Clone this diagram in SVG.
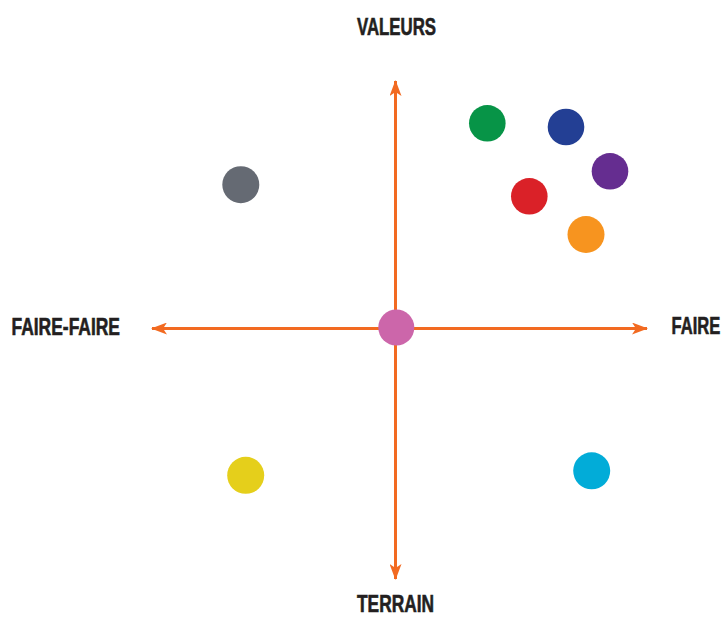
<svg xmlns="http://www.w3.org/2000/svg" width="725" height="617" viewBox="0 0 725 617">
<style>
.lbl{font-family:"Liberation Sans",Arial,sans-serif;font-weight:bold;font-size:23px;fill:#231f20;stroke:#231f20;stroke-width:0.6}
.axis{stroke:#f26a21;stroke-width:3;fill:none}
</style>
<defs>
<marker id="ah" viewBox="0 0 16 12" refX="15" refY="6" markerWidth="16" markerHeight="12" markerUnits="userSpaceOnUse" orient="auto">
<path d="M0,0 L16,6 L0,12 L4,6 Z" fill="#f26a21"/>
</marker>
</defs>
<rect width="725" height="617" fill="#ffffff"/>
<g id="connectors">
<line class="axis" x1="395.5" y1="328.5" x2="395.5" y2="81" marker-end="url(#ah)"/>
<line class="axis" x1="395.5" y1="328.5" x2="395.5" y2="579" marker-end="url(#ah)"/>
<line class="axis" x1="395.5" y1="328.5" x2="152" y2="328.5" marker-end="url(#ah)"/>
<line class="axis" x1="395.5" y1="328.5" x2="647" y2="328.5" marker-end="url(#ah)"/>
</g>
<g id="labels">
<text id="valeurs" class="lbl" x="357" y="35" textLength="79" lengthAdjust="spacingAndGlyphs">VALEURS</text>
<text id="faire-faire" class="lbl" x="11.5" y="334.5" textLength="108.5" lengthAdjust="spacingAndGlyphs">FAIRE-FAIRE</text>
<text id="faire" class="lbl" transform="translate(671.5,333.5) scale(0.72,1)" x="0" y="0">FAIRE</text>
<text id="terrain" class="lbl" x="357" y="612" textLength="77" lengthAdjust="spacingAndGlyphs">TERRAIN</text>
</g>
<g id="node-pink"><circle cx="396.3" cy="327.5" r="18" fill="#cc66aa"/></g>
<g id="node-green"><circle cx="487.3" cy="123.3" r="18.3" fill="#079447"/></g>
<g id="node-blue"><circle cx="566" cy="127" r="18.3" fill="#233f94"/></g>
<g id="node-purple"><circle cx="610" cy="171.3" r="18.3" fill="#652d90"/></g>
<g id="node-red"><circle cx="529.3" cy="196.3" r="18.3" fill="#da2128"/></g>
<g id="node-orange"><circle cx="586" cy="234.5" r="18.5" fill="#f7941f"/></g>
<g id="node-gray"><circle cx="240.8" cy="184.7" r="18.5" fill="#656a73"/></g>
<g id="node-yellow"><circle cx="245.7" cy="475.3" r="18.5" fill="#e5cf1b"/></g>
<g id="node-cyan"><circle cx="591.7" cy="470.8" r="18.5" fill="#02acd8"/></g>
</svg>
